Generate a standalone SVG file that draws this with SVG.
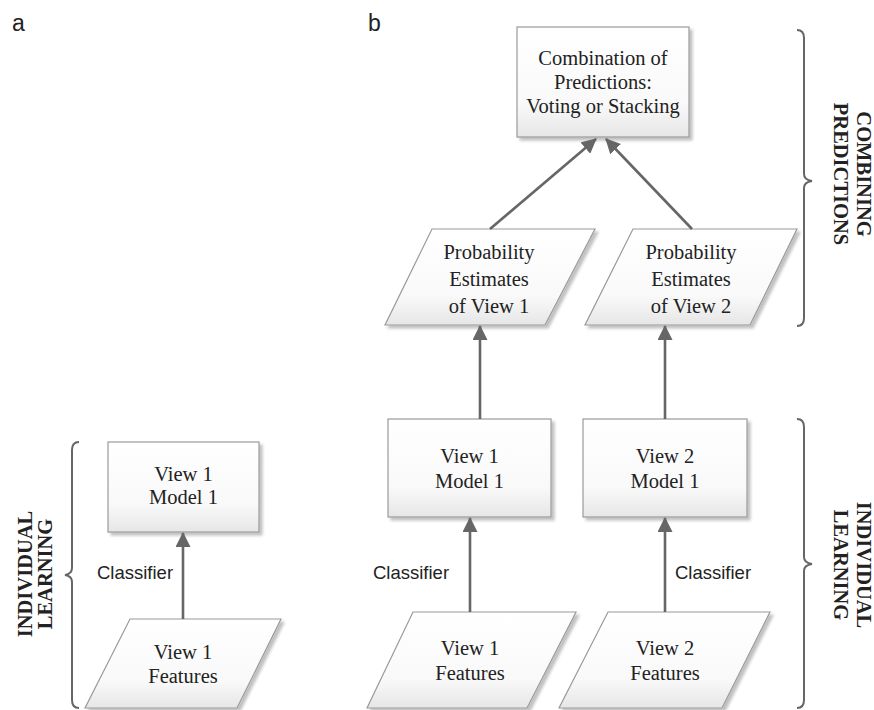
<svg xmlns="http://www.w3.org/2000/svg" width="874" height="710" viewBox="0 0 874 710">
<defs>
<linearGradient id="g" x1="0" y1="0" x2="0" y2="1">
<stop offset="0" stop-color="#ffffff"/><stop offset="0.7" stop-color="#f9f9f9"/><stop offset="1" stop-color="#e6e6e6"/>
</linearGradient>
<marker id="ah" viewBox="0 0 15 15" refX="14" refY="7.5" markerWidth="15" markerHeight="15" markerUnits="userSpaceOnUse" orient="auto">
<path d="M0,0 L15,7.5 L0,15 Z" fill="#666"/>
</marker>
<filter id="sh" x="-10%" y="-10%" width="130%" height="130%">
<feGaussianBlur in="SourceAlpha" stdDeviation="1.5"/>
<feOffset dx="2.5" dy="2.5" result="b"/>
<feComponentTransfer><feFuncA type="linear" slope="0.25"/></feComponentTransfer>
<feMerge><feMergeNode/><feMergeNode in="SourceGraphic"/></feMerge>
</filter>
</defs>
<style>
.n{fill:url(#g);stroke:#9a9a9a;stroke-width:1.2;filter:url(#sh)}
.t{font-family:"Liberation Serif","Times New Roman",serif;font-size:20.5px;fill:#222;text-anchor:middle}
.c{font-family:"Liberation Sans",Arial,sans-serif;font-size:18.5px;fill:#222}
.p{font-family:"Liberation Sans",Arial,sans-serif;font-size:23px;fill:#222}
.lb{font-family:"Liberation Serif","Times New Roman",serif;font-size:20.5px;font-weight:bold;fill:#222;text-anchor:middle}
.a{stroke:#666;stroke-width:2.6;fill:none;marker-end:url(#ah)}
.br{stroke:#666;stroke-width:2;fill:none}
</style>
<rect width="874" height="710" fill="#fff"/>
<text class="p" x="12" y="31">a</text>
<text class="p" x="368" y="31">b</text>

<g id="a_model">
<rect class="n" x="108" y="442" width="151" height="90"/>
<text class="t" x="183.5" y="481">View 1</text>
<text class="t" x="183.5" y="504">Model 1</text>
</g>
<g id="a_features">
<polygon class="n" points="130,619 281,619 237,708 85,708"/>
<text class="t" x="183" y="659">View 1</text>
<text class="t" x="183" y="683">Features</text>
</g>

<g id="b_comb">
<rect class="n" x="517" y="27" width="172" height="110"/>
<text class="t" x="603" y="65">Combination of</text>
<text class="t" x="603" y="89">Predictions:</text>
<text class="t" x="603" y="113">Voting or Stacking</text>
</g>
<g id="b_prob1">
<polygon class="n" points="432,229 595,229 545,325 385,325"/>
<text class="t" x="489" y="259">Probability</text>
<text class="t" x="489" y="286">Estimates</text>
<text class="t" x="489" y="313">of View 1</text>
</g>
<g id="b_prob2">
<polygon class="n" points="633,229 797,229 750,325 585,325"/>
<text class="t" x="691" y="259">Probability</text>
<text class="t" x="691" y="286">Estimates</text>
<text class="t" x="691" y="313">of View 2</text>
</g>
<g id="b_model1">
<rect class="n" x="388" y="419" width="163" height="98"/>
<text class="t" x="469.5" y="463">View 1</text>
<text class="t" x="469.5" y="488">Model 1</text>
</g>
<g id="b_model2">
<rect class="n" x="583" y="419" width="164" height="98"/>
<text class="t" x="665" y="463">View 2</text>
<text class="t" x="665" y="488">Model 1</text>
</g>
<g id="b_feat1">
<polygon class="n" points="413,612 576,612 527,708 367,708"/>
<text class="t" x="470" y="655">View 1</text>
<text class="t" x="470" y="680">Features</text>
</g>
<g id="b_feat2">
<polygon class="n" points="608,612 770,612 722,708 559,708"/>
<text class="t" x="665" y="655">View 2</text>
<text class="t" x="665" y="680">Features</text>
</g>

<g id="connectors">
<line class="a" x1="183" y1="619" x2="183" y2="533"/>
<line class="a" x1="470" y1="612" x2="470" y2="518"/>
<line class="a" x1="665" y1="612" x2="665" y2="518"/>
<line class="a" x1="480" y1="419" x2="480" y2="326"/>
<line class="a" x1="665" y1="419" x2="665" y2="326"/>
<line class="a" x1="490" y1="229" x2="596" y2="139"/>
<line class="a" x1="692" y1="229" x2="606" y2="139"/>
</g>

<g id="labels">
<text class="c" x="97" y="579">Classifier</text>
<text class="c" x="373" y="579">Classifier</text>
<text class="c" x="675" y="579">Classifier</text>
</g>

<g id="brace_left">
<path class="br" d="M79,442 Q72,442 72,450 L72,568 Q72,574 65,575 Q72,576 72,582 L72,700 Q72,708 79,708"/>
<text class="lb" transform="translate(32,574) rotate(-90)">INDIVIDUAL</text>
<text class="lb" transform="translate(52,574) rotate(-90)">LEARNING</text>
</g>
<g id="brace_top">
<path class="br" d="M797,30 Q804,30 804,38 L804,174 Q804,180 812,181 Q804,182 804,188 L804,318 Q804,326 797,326"/>
<text class="lb" transform="translate(857,174) rotate(90)">COMBINING</text>
<text class="lb" transform="translate(834,174) rotate(90)">PREDICTIONS</text>
</g>
<g id="brace_bottom">
<path class="br" d="M797,419 Q804,419 804,427 L804,557 Q804,563 812,564 Q804,565 804,571 L804,700 Q804,708 797,708"/>
<text class="lb" transform="translate(857,565) rotate(90)">INDIVIDUAL</text>
<text class="lb" transform="translate(834,565) rotate(90)">LEARNING</text>
</g>
</svg>
